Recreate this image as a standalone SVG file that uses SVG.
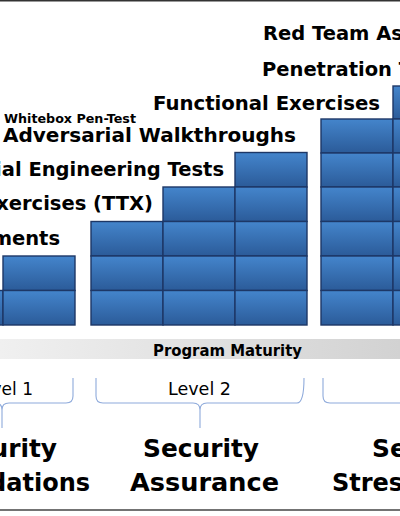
<svg xmlns="http://www.w3.org/2000/svg" width="400" height="516" viewBox="0 0 400 516">
  <defs>
    <linearGradient id="blkGrad" x1="0" y1="0" x2="0" y2="1">
      <stop offset="0" stop-color="#4485cc"/>
      <stop offset="1" stop-color="#2b5b99"/>
    </linearGradient>
    <linearGradient id="barGrad" x1="0" y1="0" x2="1" y2="0">
      <stop offset="0" stop-color="#f0f0f0"/>
      <stop offset="1" stop-color="#d2d2d2"/>
    </linearGradient>
    <style>
      .blk { fill: url(#blkGrad); stroke: #1d3766; stroke-width: 1.4; }
      .step { font-family: "DejaVu Sans", "Liberation Sans", sans-serif; font-weight: 700; font-size: 19.5px; fill: #000; }
      .big { font-family: "DejaVu Sans", "Liberation Sans", sans-serif; font-weight: 700; font-size: 24px; fill: #000; text-anchor: middle; }
      .lvl { font-family: "DejaVu Sans", "Liberation Sans", sans-serif; font-size: 17px; fill: #000; }
      .brace { fill: none; stroke: #8eaadb; stroke-width: 1.1; }
    </style>
  </defs>
  <rect width="400" height="516" fill="#ffffff"/>
  <line x1="0" y1="0.7" x2="400" y2="0.7" stroke="#333" stroke-width="1.5"/>
  <line x1="0" y1="510" x2="400" y2="510" stroke="#444" stroke-width="1.5"/>

  <g id="level1-blocks">
    <rect class="blk" x="-69" y="290.5" width="72" height="34.5"/>
    <rect class="blk" x="3" y="256" width="72" height="34.5"/>
    <rect class="blk" x="3" y="290.5" width="72" height="34.5"/>
  </g>
  <g id="level2-blocks">
    <rect class="blk" x="91" y="221.5" width="72" height="34.5"/>
    <rect class="blk" x="91" y="256" width="72" height="34.5"/>
    <rect class="blk" x="91" y="290.5" width="72" height="34.5"/>
    <rect class="blk" x="163" y="187" width="72" height="34.5"/>
    <rect class="blk" x="163" y="221.5" width="72" height="34.5"/>
    <rect class="blk" x="163" y="256" width="72" height="34.5"/>
    <rect class="blk" x="163" y="290.5" width="72" height="34.5"/>
    <rect class="blk" x="235" y="152.5" width="72" height="34.5"/>
    <rect class="blk" x="235" y="187" width="72" height="34.5"/>
    <rect class="blk" x="235" y="221.5" width="72" height="34.5"/>
    <rect class="blk" x="235" y="256" width="72" height="34.5"/>
    <rect class="blk" x="235" y="290.5" width="72" height="34.5"/>
  </g>
  <g id="level3-blocks">
    <rect class="blk" x="321" y="119" width="72" height="34"/>
    <rect class="blk" x="321" y="153" width="72" height="34"/>
    <rect class="blk" x="321" y="187" width="72" height="34.5"/>
    <rect class="blk" x="321" y="221.5" width="72" height="34.5"/>
    <rect class="blk" x="321" y="256" width="72" height="34.5"/>
    <rect class="blk" x="321" y="290.5" width="72" height="34.5"/>
    <rect class="blk" x="393" y="86" width="72" height="33"/>
    <rect class="blk" x="393" y="119" width="72" height="34"/>
    <rect class="blk" x="393" y="153" width="72" height="34"/>
    <rect class="blk" x="393" y="187" width="72" height="34.5"/>
    <rect class="blk" x="393" y="221.5" width="72" height="34.5"/>
    <rect class="blk" x="393" y="256" width="72" height="34.5"/>
    <rect class="blk" x="393" y="290.5" width="72" height="34.5"/>
  </g>

  <g id="step-labels">
    <text class="step" x="263" y="40">Red Team Assessments</text>
    <text class="step" x="262" y="76">Penetration Tests</text>
    <text class="step" x="153" y="110" textLength="227" lengthAdjust="spacingAndGlyphs">Functional Exercises</text>
    <text class="step" x="4" y="123" style="font-size:13px" textLength="132" lengthAdjust="spacingAndGlyphs">Whitebox Pen-Test</text>
    <text class="step" x="3" y="142" textLength="293" lengthAdjust="spacingAndGlyphs">Adversarial Walkthroughs</text>
    <text class="step" x="224" y="176" text-anchor="end">Social Engineering Tests</text>
    <text class="step" x="153" y="210" text-anchor="end">Tabletop Exercises (TTX)</text>
    <text class="step" x="60" y="245" text-anchor="end">Assessments</text>
  </g>

  <g id="maturity-bar">
    <rect x="0" y="339" width="400" height="20" fill="url(#barGrad)"/>
    <text x="153" y="356" style="font-family:'DejaVu Sans','Liberation Sans',sans-serif;font-weight:700;font-size:15px" textLength="149" lengthAdjust="spacingAndGlyphs">Program Maturity</text>
  </g>

  <g id="connectors">
    <path class="brace" d="M73,378 L73,396 Q73,403 66,403 L9,403 Q2,403 2,410 L2,428 M2,410 Q2,403 -5,403 L-60,403"/>
    <path class="brace" d="M96,378 L96,396 Q96,403 103,403 L193,403 Q200,403 200,410 L200,428 M200,410 Q200,403 207,403 L297,403 Q304,403 304,378"/>
    <path class="brace" d="M323,378 L323,396 Q323,403 330,403 L440,403"/>
  </g>

  <g id="level1">
    <text class="lvl" x="33" y="395" text-anchor="end">Level 1</text>
    <text class="big" x="-1" y="457" textLength="116" lengthAdjust="spacingAndGlyphs">Security</text>
    <text class="big" x="90" y="491" style="text-anchor:end">Foundations</text>
  </g>
  <g id="level2">
    <text class="lvl" x="168" y="395" textLength="63" lengthAdjust="spacingAndGlyphs">Level 2</text>
    <text class="big" x="201" y="457" textLength="116" lengthAdjust="spacingAndGlyphs">Security</text>
    <text class="big" x="204.5" y="491" textLength="149" lengthAdjust="spacingAndGlyphs">Assurance</text>
  </g>
  <g id="level3">
    <text class="big" x="372" y="457" style="text-anchor:start" textLength="116" lengthAdjust="spacingAndGlyphs">Security</text>
    <text class="big" x="332" y="491" style="text-anchor:start">Stress Testing</text>
  </g>
</svg>
